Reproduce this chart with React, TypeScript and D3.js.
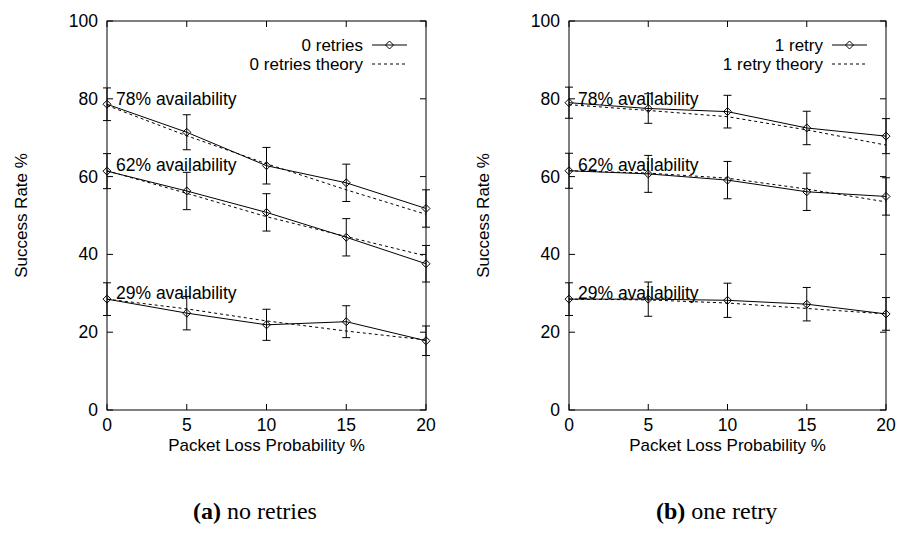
import React from "react";
import * as d3 from "d3";

// packet loss probability (x) and ticks
const lossX = [0, 5, 10, 15, 20];
const yTicks = [0, 20, 40, 60, 80, 100];

// (a) no retries - measured, error, theory
const r0_78 = [78.6, 71.4, 62.8, 58.4, 51.8];
const r0_78Err = [4.2, 4.5, 4.7, 4.8, 4.8];
const r0_78Theory = [78.3, 70.5, 63.3, 56.6, 50.3];
const r0_62 = [61.4, 56.3, 50.8, 44.4, 37.6];
const r0_62Err = [4.5, 4.8, 4.8, 4.8, 4.7];
const r0_62Theory = [61.5, 55.7, 49.7, 44.6, 39.6];
const r0_29 = [28.5, 24.9, 21.9, 22.7, 17.8];
const r0_29Err = [4.2, 4.3, 4.0, 4.1, 3.8];
const r0_29Theory = [28.5, 26.0, 22.9, 20.3, 18.0];

// (b) one retry
const r1_78 = [79.0, 77.5, 76.7, 72.5, 70.4];
const r1_78Err = [4.0, 3.8, 4.2, 4.3, 4.5];
const r1_78Theory = [78.5, 77.0, 75.4, 72.0, 68.1];
const r1_62 = [61.5, 60.7, 59.1, 56.1, 54.9];
const r1_62Err = [4.5, 4.75, 4.8, 4.8, 4.8];
const r1_62Theory = [61.5, 60.9, 59.6, 56.8, 53.5];
const r1_29 = [28.5, 28.5, 28.2, 27.2, 24.7];
const r1_29Err = [4.2, 4.4, 4.4, 4.3, 4.2];
const r1_29Theory = [28.5, 28.3, 27.5, 26.1, 24.7];

const availLabels = ["78% availability", "62% availability", "29% availability"];
const availLabelY = [80, 63, 30];

const FONT = "'Liberation Sans', Arial, Helvetica, sans-serif";

type Group = { val: number[]; err: number[]; theory: number[] };

function Panel({
  left,
  right,
  groups,
  legend,
}: {
  left: number;
  right: number;
  groups: Group[];
  legend: [string, string];
}) {
  const top = 21;
  const bottom = 410;
  const x = d3.scaleLinear().domain([0, 20]).range([left, right]);
  const y = d3.scaleLinear().domain([0, 100]).range([bottom, top]);
  const line = d3
    .line<number>()
    .x((_, i) => x(lossX[i]))
    .y((d) => y(d));
  const tick = 6;
  const cap = 4;
  const diamond = (cx: number, cy: number, key: string) => (
    <path
      key={key}
      d={`M${cx - 4},${cy} L${cx},${cy - 4} L${cx + 4},${cy} L${cx},${cy + 4} Z`}
      fill="none"
      stroke="#000"
      strokeWidth={1}
    />
  );
  const legX = right - 63;
  const sx0 = right - 54;
  const sx1 = right - 19;
  return (
    <g fontFamily={FONT} fill="#000">
      {/* ticks */}
      {yTicks.map((t) => (
        <g key={"y" + t}>
          <line x1={left} x2={left + tick} y1={y(t)} y2={y(t)} stroke="#000" />
          <line x1={right} x2={right - tick} y1={y(t)} y2={y(t)} stroke="#000" />
          <text x={left - 9} y={y(t) + 6} textAnchor="end" fontSize={17.5}>
            {t}
          </text>
        </g>
      ))}
      {lossX.map((t) => (
        <g key={"x" + t}>
          <line x1={x(t)} x2={x(t)} y1={bottom} y2={bottom - tick} stroke="#000" />
          <line x1={x(t)} x2={x(t)} y1={top} y2={top + tick} stroke="#000" />
          <text x={x(t)} y={bottom + 21} textAnchor="middle" fontSize={17.5}>
            {t}
          </text>
        </g>
      ))}
      <text
        x={(left + right) / 2}
        y={bottom + 41}
        textAnchor="middle"
        fontSize={17}
      >
        Packet Loss Probability %
      </text>
      <text
        transform={`translate(${left - 80},${(top + bottom) / 2}) rotate(-90)`}
        textAnchor="middle"
        fontSize={17}
      >
        Success Rate %
      </text>
      {/* data */}
      {groups.map((g, gi) => (
        <g key={"g" + gi}>
          <path
            d={line(g.theory) || ""}
            fill="none"
            stroke="#000"
            strokeWidth={1}
            strokeDasharray="3,3"
          />
          <path d={line(g.val) || ""} fill="none" stroke="#000" strokeWidth={1} />
          {g.val.map((v, i) => {
            const cx = x(lossX[i]);
            const y0 = y(v - g.err[i]);
            const y1 = y(v + g.err[i]);
            return (
              <g key={i}>
                <line x1={cx} x2={cx} y1={y0} y2={y1} stroke="#000" />
                <line x1={cx - cap} x2={cx + cap} y1={y0} y2={y0} stroke="#000" />
                <line x1={cx - cap} x2={cx + cap} y1={y1} y2={y1} stroke="#000" />
                {diamond(cx, y(v), "d" + i)}
              </g>
            );
          })}
          <text x={left + 9} y={y(availLabelY[gi]) + 6} fontSize={17.5}>
            {availLabels[gi]}
          </text>
        </g>
      ))}
      {/* legend */}
      <text x={legX} y={51} textAnchor="end" fontSize={17}>
        {legend[0]}
      </text>
      <line x1={sx0} x2={sx1} y1={45} y2={45} stroke="#000" />
      {diamond((sx0 + sx1) / 2, 45, "leg")}
      <text x={legX} y={70} textAnchor="end" fontSize={17}>
        {legend[1]}
      </text>
      <line
        x1={sx0}
        x2={sx1}
        y1={64}
        y2={64}
        stroke="#000"
        strokeDasharray="3,3"
      />
      {/* frame */}
      <rect
        x={left}
        y={top}
        width={right - left}
        height={bottom - top}
        fill="none"
        stroke="#000"
        strokeWidth={1}
      />
    </g>
  );
}

export default function App() {
  const groupsA: Group[] = [
    { val: r0_78, err: r0_78Err, theory: r0_78Theory },
    { val: r0_62, err: r0_62Err, theory: r0_62Theory },
    { val: r0_29, err: r0_29Err, theory: r0_29Theory },
  ];
  const groupsB: Group[] = [
    { val: r1_78, err: r1_78Err, theory: r1_78Theory },
    { val: r1_62, err: r1_62Err, theory: r1_62Theory },
    { val: r1_29, err: r1_29Err, theory: r1_29Theory },
  ];
  return (
    <svg
      width={898}
      height={545}
      style={{ position: "absolute", left: 0, top: 0, background: "#fff" }}
    >
      <rect width={898} height={545} fill="#fff" />
      <Panel
        left={107}
        right={426}
        groups={groupsA}
        legend={["0 retries", "0 retries theory"]}
      />
      <Panel
        left={569}
        right={886}
        groups={groupsB}
        legend={["1 retry", "1 retry theory"]}
      />
      <g fontFamily="'Liberation Serif', 'Times New Roman', serif" fontSize={24}>
        <text x={193} y={519}>
          <tspan fontWeight="bold">(a)</tspan> no retries
        </text>
        <text x={656} y={519}>
          <tspan fontWeight="bold">(b)</tspan> one retry
        </text>
      </g>
    </svg>
  );
}
